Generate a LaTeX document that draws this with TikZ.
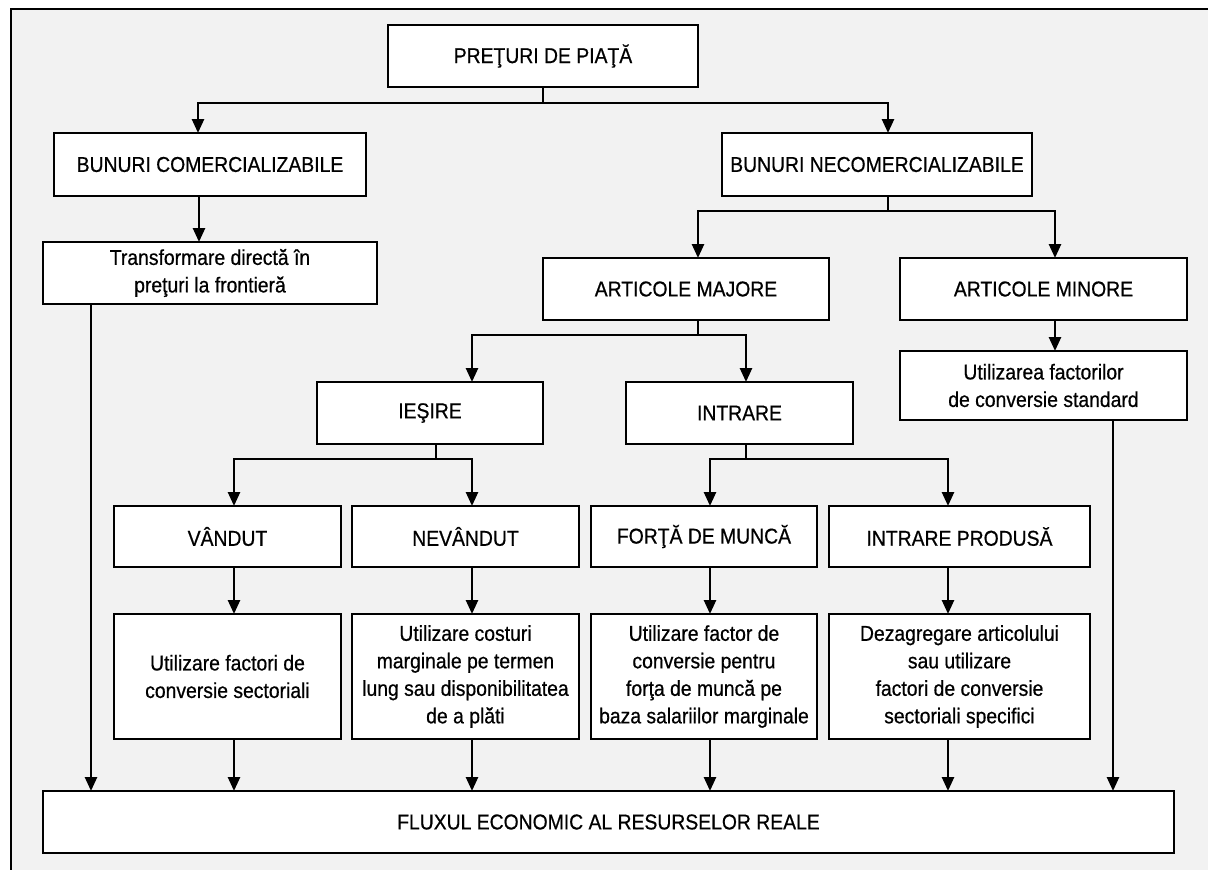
\documentclass[tikz,border=0pt]{standalone}
\usepackage{fontspec}
\setmainfont{Liberation Sans}[FakeStretch=0.9,FakeBold=0.6]
\usetikzlibrary{arrows.meta}
\definecolor{bgc}{HTML}{F2F2F2}
\tikzset{
 box/.style={draw=black, line width=1.8pt, fill=white, inner sep=0pt, outer sep=0pt, align=center, font=\fontsize{21.5}{27.5}\selectfont},
 arr/.style={line width=2.6pt, -{Triangle[length=14pt,width=12pt]}},
 stem/.style={line width=1.3pt},
 bar/.style={line width=1.6pt, line cap=rect},
 frame/.style={line width=2pt},
}
\newcommand{\bx}[7][]{\node[box, minimum width={#5-#3}, minimum height={#6-#4}, #1] (#2) at ({(#3+#5)/2},{(#4+#6)/2}) {#7};}
\begin{document}
\begin{tikzpicture}[x=1pt,y=-1pt]
\useasboundingbox (0,0) rectangle (1208,870);
\fill[white] (0,0) rectangle (1208,870);
\fill[bgc] (11,9) rectangle (1208,870);
\draw[frame] (11,870) -- (11,9) -- (1208,9);

\bx{p}{388}{25}{698}{87}{PREŢURI DE PIAŢĂ}
\bx{bc}{54}{133}{366}{196}{BUNURI COMERCIALIZABILE}
\bx{bn}{722}{133}{1032}{196}{BUNURI NECOMERCIALIZABILE}
\bx{tr}{43}{242}{377}{304}{Transformare directă în\\preţuri la frontieră}
\bx{am}{543}{258}{829}{320}{ARTICOLE MAJORE}
\bx{ami}{900}{258}{1187}{320}{ARTICOLE MINORE}
\bx{uf}{900}{351}{1187}{420}{Utilizarea factorilor\\de conversie standard}
\bx{ie}{317}{382}{543}{444}{IEŞIRE}
\bx{in}{626}{382}{853}{444}{INTRARE}
\bx{v}{114}{506}{341}{567}{VÂNDUT}
\bx{nv}{352}{506}{579}{567}{NEVÂNDUT}
\bx{fm}{591}{506}{817}{567}{FORŢĂ DE MUNCĂ}
\bx{ip}{829}{506}{1090}{567}{INTRARE PRODUSĂ}
\bx{v2}{114}{614}{341}{739}{Utilizare factori de\\conversie sectoriali}
\bx{nv2}{352}{614}{579}{739}{Utilizare costuri\\marginale pe termen\\lung sau disponibilitatea\\de a plăti}
\bx{fm2}{591}{614}{817}{739}{Utilizare factor de\\conversie pentru\\forţa de muncă pe\\baza salariilor marginale}
\bx{ip2}{829}{614}{1090}{739}{Dezagregare articolului\\sau utilizare\\factori de conversie\\sectoriali specifici}
\bx{fx}{43}{791}{1174}{853}{FLUXUL ECONOMIC AL RESURSELOR REALE}

% level 1
\draw[stem] (p.south) -- (p.south |- 0,103);
\draw[bar] (198,103) -- (888,103);
\draw[arr] (198,103) -- (bc.north -| 198,0);
\draw[arr] (888,103) -- (bn.north -| 888,0);
% left branch
\draw[arr] (bc.south -| 199,0) -- (tr.north -| 199,0);
\draw[arr] (tr.south -| 91,0) -- (fx.north -| 91,0);
% right branch
\draw[stem] (bn.south -| 888,0) -- (888,211);
\draw[bar] (698,211) -- (1055,211);
\draw[arr] (698,211) -- (am.north -| 698,0);
\draw[arr] (1055,211) -- (ami.north -| 1055,0);
\draw[arr] (ami.south -| 1055,0) -- (uf.north -| 1055,0);
\draw[arr] (uf.south -| 1113,0) -- (fx.north -| 1113,0);
% articole majore
\draw[stem] (am.south -| 698,0) -- (698,335);
\draw[bar] (472,335) -- (746,335);
\draw[arr] (472,335) -- (ie.north -| 472,0);
\draw[arr] (746,335) -- (in.north -| 746,0);
% iesire
\draw[stem] (ie.south -| 436,0) -- (436,459);
\draw[bar] (234,459) -- (472,459);
\draw[arr] (234,459) -- (v.north -| 234,0);
\draw[arr] (472,459) -- (nv.north -| 472,0);
% intrare
\draw[stem] (in.south -| 746,0) -- (746,459);
\draw[bar] (710,459) -- (948,459);
\draw[arr] (710,459) -- (fm.north -| 710,0);
\draw[arr] (948,459) -- (ip.north -| 948,0);
% row arrows
\draw[arr] (v.south -| 234,0) -- (v2.north -| 234,0);
\draw[arr] (nv.south -| 472,0) -- (nv2.north -| 472,0);
\draw[arr] (fm.south -| 710,0) -- (fm2.north -| 710,0);
\draw[arr] (ip.south -| 948,0) -- (ip2.north -| 948,0);
\draw[arr] (v2.south -| 234,0) -- (fx.north -| 234,0);
\draw[arr] (nv2.south -| 472,0) -- (fx.north -| 472,0);
\draw[arr] (fm2.south -| 710,0) -- (fx.north -| 710,0);
\draw[arr] (ip2.south -| 948,0) -- (fx.north -| 948,0);
\end{tikzpicture}
\end{document}
